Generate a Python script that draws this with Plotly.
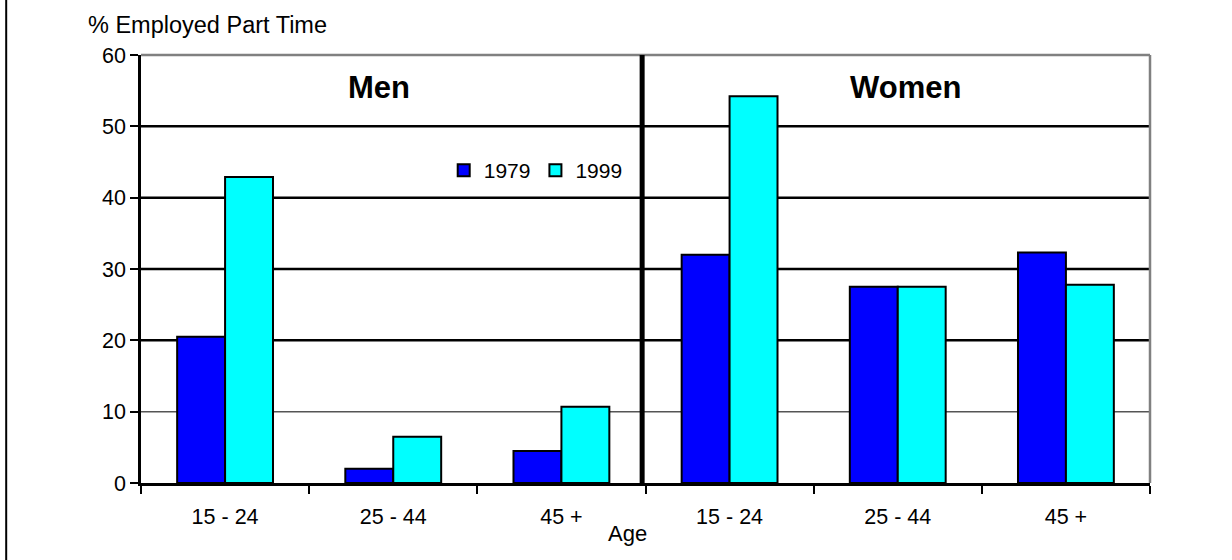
import plotly.graph_objects as go

# ---- data ----
age_groups = ["15 - 24", "25 - 44", "45 +", "15 - 24", "25 - 44", "45 +"]
sex_groups = ["Men", "Women"]
y1979 = [20.5, 2.0, 4.5, 32.0, 27.5, 32.3]
y1999 = [42.9, 6.5, 10.7, 54.2, 27.5, 27.8]
series_names = ["1979", "1999"]
y_ticks = [0, 10, 20, 30, 40, 50, 60]

FONT = "Liberation Sans, Arial, sans-serif"
xpos = list(range(len(age_groups)))

fig = go.Figure()
fig.add_bar(x=xpos, y=y1979, name=series_names[0],
            marker=dict(color="#0000FF", line=dict(color="black", width=2)))
fig.add_bar(x=xpos, y=y1999, name=series_names[1],
            marker=dict(color="#00FFFF", line=dict(color="black", width=2)))

shapes = []
# gridlines
for t in y_ticks[1:-1]:
    if t == 10:
        shapes.append(dict(type="line", xref="x domain", yref="y", x0=0, x1=1, y0=t, y1=t,
                           line=dict(color="#555555", width=1.5), layer="below"))
    else:
        shapes.append(dict(type="line", xref="x domain", yref="y", x0=0, x1=1, y0=t, y1=t,
                           line=dict(color="black", width=2.5), layer="below"))
# top and right frame (gray)
shapes.append(dict(type="line", xref="x domain", yref="y domain", x0=0, x1=1, y0=1, y1=1,
                   line=dict(color="#808080", width=2.5)))
shapes.append(dict(type="line", xref="x domain", yref="y domain", x0=1, x1=1, y0=0, y1=1,
                   line=dict(color="#808080", width=2.5)))
# separator between Men and Women
shapes.append(dict(type="line", xref="x", yref="y domain", x0=2.48, x1=2.48, y0=0, y1=1,
                   line=dict(color="black", width=5)))
# outer left border
shapes.append(dict(type="line", xref="paper", yref="paper", x0=-0.1336, x1=-0.1336, y0=-1, y1=2,
                   line=dict(color="black", width=2)))

annotations = [
    dict(text="% Employed Part Time", xref="paper", yref="paper", x=-0.0545, y=1.07,
         xanchor="left", yanchor="middle", showarrow=False,
         font=dict(family=FONT, size=23.5, color="black")),
    dict(text="<b>Men</b>", xref="paper", yref="paper", x=0.2358, y=0.925,
         xanchor="center", yanchor="middle", showarrow=False,
         font=dict(family=FONT, size=31, color="black")),
    dict(text="<b>Women</b>", xref="paper", yref="paper", x=0.7573, y=0.925,
         xanchor="center", yanchor="middle", showarrow=False,
         font=dict(family=FONT, size=31, color="black")),
    dict(text="Age", xref="paper", yref="paper", x=0.4826, y=-0.118,
         xanchor="center", yanchor="middle", showarrow=False,
         font=dict(family=FONT, size=22, color="black")),
]

fig.update_layout(
    width=1232, height=560,
    margin=dict(l=141, r=82, t=55, b=77),
    paper_bgcolor="white", plot_bgcolor="white",
    barmode="group", bargap=0.43, bargroupgap=0,
    font=dict(family=FONT, size=21, color="black"),
    showlegend=True,
    legend=dict(orientation="h", x=0.300, y=0.73, xanchor="left", yanchor="middle",
                bgcolor="rgba(0,0,0,0)", font=dict(size=21),
                itemwidth=30, tracegroupgap=0, traceorder="normal"),
    shapes=shapes, annotations=annotations,
)
fig.update_xaxes(
    range=[-0.5, 5.5], tickvals=xpos, ticktext=age_groups,
    ticks="", showgrid=False, zeroline=False,
    showline=True, linecolor="black", linewidth=2.5,
    tickfont=dict(size=21.5), ticklabelstandoff=12,
    minor=dict(tickvals=[i - 0.5 for i in range(len(age_groups) + 1)],
               ticks="outside", ticklen=8, tickwidth=2, tickcolor="black", showgrid=False),
)
fig.update_yaxes(
    range=[0, 60], tickvals=y_ticks, ticks="outside", ticklen=8, tickwidth=2, tickcolor="black",
    showgrid=False, zeroline=False, showline=True, linecolor="black", linewidth=2.5,
    tickfont=dict(size=21.5),
)

fig.write_html("out.html")
